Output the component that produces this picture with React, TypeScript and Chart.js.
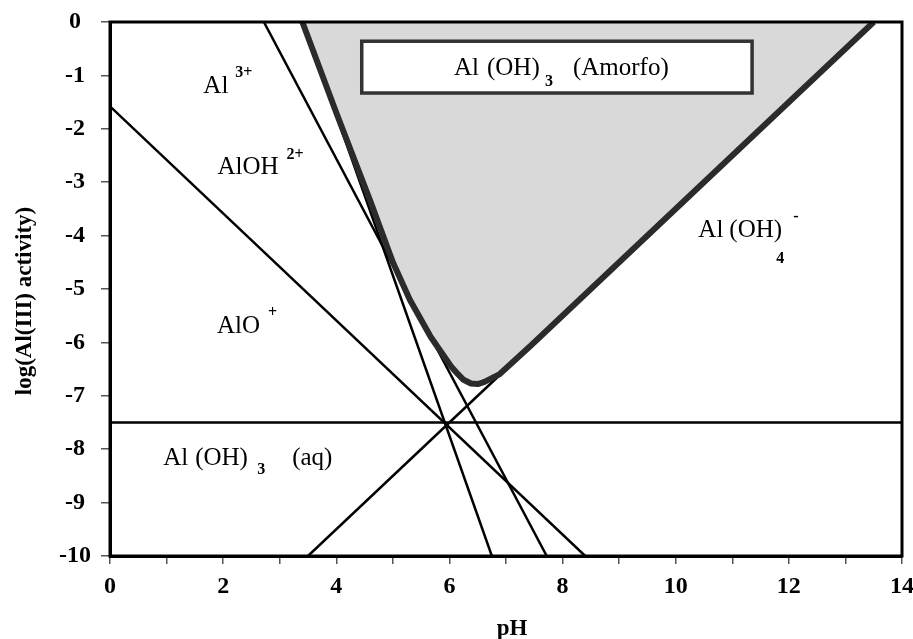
import React, { useEffect, useRef } from 'react';
import { Chart, registerables } from 'chart.js';

Chart.register(...registerables);

// ---- Axis ticks ----
const pHMin = 0;
const pHMax = 14;
const logMin = -10;
const logMax = 0;

// ---- Predominance boundary lines (pH, log activity) ----
const alOLinePH = [0, 8.4];
const alOLineLog = [-1.58, -10];

const alOH2LinePH = [2.72, 7.72];
const alOH2LineLog = [0, -10];

const al3LinePH = [3.42, 6.75];
const al3LineLog = [0, -10];

const alOH4LinePH = [3.5, 6.88];
const alOH4LineLog = [-10, -6.62];

const aqLinePH = [0, 14];
const aqLineLog = [-7.5, -7.5];

// ---- Amorphous Al(OH)3 solubility boundary ----
const solidPH = [3.4, 4.0, 4.6, 5.0, 5.3, 5.67, 6.03, 6.12, 6.25, 6.38, 6.5, 6.62, 6.88, 7.45, 13.5];
const solidLog = [0, -1.7, -3.35, -4.5, -5.2, -5.9, -6.45, -6.56, -6.7, -6.77, -6.78, -6.74, -6.6, -6.05, 0];

const toPoints = (xs: number[], ys: number[]) => xs.map((x, i) => ({ x, y: ys[i] }));

const SERIF = '"Liberation Serif", "DejaVu Serif", serif';

const annotatePlugin = {
  id: 'annotate',
  afterDatasetsDraw(chart: any) {
    const { ctx, chartArea, scales } = chart;
    const xs = scales.x;
    const ys = scales.y;
    const px = (v: number) => xs.getPixelForValue(v);
    const py = (v: number) => ys.getPixelForValue(v);
    ctx.save();

    // frame
    ctx.strokeStyle = '#000';
    ctx.lineWidth = 3;
    ctx.strokeRect(chartArea.left, chartArea.top, chartArea.right - chartArea.left, chartArea.bottom - chartArea.top);

    const main = `25px ${SERIF}`;
    const small = `bold 16px ${SERIF}`;
    ctx.fillStyle = '#000';
    ctx.textAlign = 'left';
    ctx.textBaseline = 'alphabetic';
    const seg = (text: string, x: number, y: number, font: string) => {
      ctx.font = font;
      ctx.fillText(text, x, y);
    };

    // Amorfo box
    const bx0 = px(4.45), bx1 = px(11.35), by0 = py(-0.36), by1 = py(-1.33);
    ctx.fillStyle = '#fff';
    ctx.fillRect(bx0, by0, bx1 - bx0, by1 - by0);
    ctx.strokeStyle = '#333';
    ctx.lineWidth = 3.5;
    ctx.strokeRect(bx0, by0, bx1 - bx0, by1 - by0);
    ctx.fillStyle = '#000';
    {
      const x0 = px(6.08), b = py(-1.0);
      seg('Al', x0, b, main);
      seg('(OH)', x0 + 33, b, main);
      seg('3', x0 + 91, b + 11, small);
      seg('(Amorfo)', x0 + 119, b, main);
    }

    // Al 3+
    {
      const x0 = px(1.65), b = py(-1.33);
      seg('Al', x0, b, main);
      seg('3+', x0 + 32, b - 16, small);
    }
    // AlOH 2+
    {
      const x0 = px(1.9), b = py(-2.85);
      seg('AlOH', x0, b, main);
      seg('2+', x0 + 69, b - 15, small);
    }
    // AlO +
    {
      const x0 = px(1.89), b = py(-5.82);
      seg('AlO', x0, b, main);
      seg('+', x0 + 51, b - 16, small);
    }
    // Al(OH)3 (aq)
    {
      const x0 = px(0.94), b = py(-8.29);
      seg('Al', x0, b, main);
      seg('(OH)', x0 + 32, b, main);
      seg('3', x0 + 94, b + 9, small);
      seg('(aq)', x0 + 129, b, main);
    }
    // Al(OH)4 -
    {
      const x0 = px(10.4), b = py(-4.03);
      seg('Al', x0, b, main);
      seg('(OH)', x0 + 31, b, main);
      seg('4', x0 + 78, b + 26, small);
      seg('-', x0 + 95, b - 16, small);
    }

    // axis titles
    ctx.font = `bold 23px ${SERIF}`;
    ctx.textAlign = 'center';
    ctx.fillText('pH', (chartArea.left + chartArea.right) / 2 + 6, chartArea.bottom + 79);
    ctx.save();
    ctx.translate(31, (chartArea.top + chartArea.bottom) / 2 + 12);
    ctx.rotate(-Math.PI / 2);
    ctx.fillText('log(Al(III) activity)', 0, 0);
    ctx.restore();

    ctx.restore();
  },
};

export default function App() {
  const ref = useRef<HTMLCanvasElement | null>(null);

  useEffect(() => {
    document.body.style.margin = '0';
    const canvas = ref.current;
    if (!canvas) return;
    const thin = { borderColor: '#000', borderWidth: 2.5, pointRadius: 0, showLine: true, fill: false, order: 1 };
    const chart = new Chart(canvas, {
      type: 'scatter',
      data: {
        datasets: [
          {
            label: 'Al(OH)3 amorfo',
            data: toPoints(solidPH, solidLog),
            borderColor: '#2b2b2b',
            borderWidth: 6,
            backgroundColor: '#d9d9d9',
            fill: 'end',
            showLine: true,
            pointRadius: 0,
            borderJoinStyle: 'round',
            order: 0,
          } as any,
          { label: 'AlO+', data: toPoints(alOLinePH, alOLineLog), ...thin },
          { label: 'AlOH2+', data: toPoints(alOH2LinePH, alOH2LineLog), ...thin },
          { label: 'Al3+', data: toPoints(al3LinePH, al3LineLog), ...thin },
          { label: 'Al(OH)4-', data: toPoints(alOH4LinePH, alOH4LineLog), ...thin },
          { label: 'Al(OH)3 aq', data: toPoints(aqLinePH, aqLineLog), ...thin },
        ],
      },
      options: {
        animation: false,
        responsive: false,
        devicePixelRatio: 1,
        layout: { padding: { top: 22, right: 11, left: 0, bottom: 0 } },
        plugins: { legend: { display: false }, tooltip: { enabled: false } },
        scales: {
          x: {
            type: 'linear',
            min: pHMin,
            max: pHMax,
            afterFit: (s: any) => { s.height = 83; s.paddingLeft = 0; s.paddingRight = 0; },
            grid: { drawOnChartArea: false, drawTicks: true, tickLength: 8, color: '#555', lineWidth: 1.5 },
            border: { display: true, color: '#000', width: 3 },
            ticks: {
              stepSize: 1,
              autoSkip: false,
              maxRotation: 0,
              padding: 8,
              color: '#000',
              font: { family: SERIF, size: 24, weight: 'bold' },
              callback: (v: any) => (Number(v) % 2 === 0 ? String(v) : ''),
            },
          },
          y: {
            type: 'linear',
            min: logMin,
            max: logMax,
            afterFit: (s: any) => { s.width = 110; s.paddingTop = 0; s.paddingBottom = 0; },
            grid: { drawOnChartArea: false, drawTicks: true, tickLength: 9, color: '#555', lineWidth: 1.5 },
            border: { display: true, color: '#000', width: 3 },
            ticks: {
              stepSize: 1,
              autoSkip: false,
              padding: 10,
              crossAlign: 'center',
              color: '#000',
              font: { family: SERIF, size: 24, weight: 'bold' },
              callback: (v: any) => String(v),
            },
          },
        },
      } as any,
      plugins: [annotatePlugin],
    });
    return () => chart.destroy();
  }, []);

  return (
    <div style={{ width: 913, height: 639, background: '#fff' }}>
      <canvas ref={ref} width={913} height={639} style={{ display: 'block' }} />
    </div>
  );
}
